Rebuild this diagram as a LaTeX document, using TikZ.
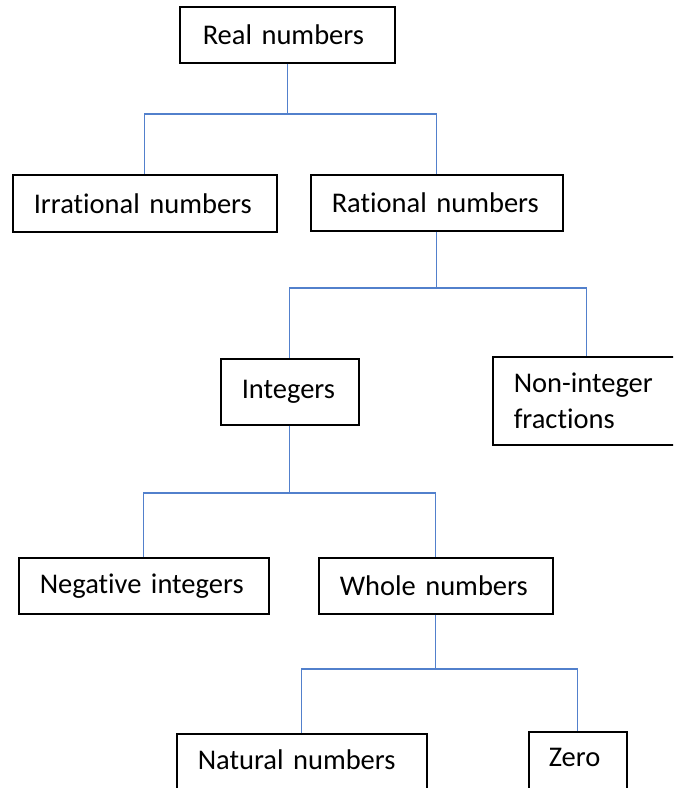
\documentclass[tikz,border=0pt]{standalone}
\usepackage{fontspec}
\setmainfont{Carlito}[RawFeature={-liga;-clig;-dlig}]
\begin{document}
\begin{tikzpicture}[x=1pt,y=-1pt,
  box/.style={draw=black, line width=1.5pt, rectangle, anchor=north west, inner xsep=0pt, inner ysep=0pt,
     font=\fontsize{28.5}{36}\selectfont, align=left},
  conn/.style={draw={rgb,255:red,82;green,128;blue,204}, line width=1.3pt}]
\useasboundingbox (0,0) rectangle (673,788);
\clip (0,0) rectangle (673,788);
% boxes: minimum width/height give box size; text inset via \hspace
\node[box, minimum width=215, minimum height=56, text width=215] (real) at (179,6) {\hspace*{23pt}Real numbers};
\node[box, minimum width=264, minimum height=57, text width=264] (irr) at (12,174) {\hspace*{21pt}Irrational numbers};
\node[box, minimum width=252, minimum height=56, text width=252] (rat) at (310,174) {\hspace*{21pt}Rational numbers};
\node[box, minimum width=138, minimum height=66, text width=138] (int) at (220,358) {\hspace*{21pt}Integers};
\node[box, minimum width=188, minimum height=88, text width=188] (non) at (492,356) {\hspace*{21pt}Non-integer\\\hspace*{21pt}fractions};
\node[box, minimum width=250, minimum height=56, text width=250] (neg) at (18,557) {\hspace*{21pt}Negative integers};
\node[box, minimum width=234, minimum height=56, text width=234] (whole) at (318,557) {\hspace*{21pt}Whole numbers};
\node[box, minimum width=250, minimum height=70, text width=250] (nat) at (176,733) {\hspace*{21pt}Natural numbers\rule[-18pt]{0pt}{1pt}};
\node[box, minimum width=98, minimum height=76, text width=98] (zero) at (528,731) {\hspace*{20pt}Zero\rule[-24pt]{0pt}{1pt}};
% junction levels
\coordinate (b1) at (0,114);
\coordinate (b2) at (0,288);
\coordinate (b3) at (0,493);
\coordinate (b4) at (0,669);
% connectors
\draw[conn] (real.south) -- (real.south |- b1);
\draw[conn] (irr.north) -- (irr.north |- b1) -- (rat.north |- b1) -- (rat.north);
\draw[conn] (rat.south) -- (rat.south |- b2);
\draw[conn] (int.north) -- (int.north |- b2) -- (non.north |- b2) -- (non.north);
\draw[conn] (int.south) -- (int.south |- b3);
\draw[conn] (neg.north) -- (neg.north |- b3) -- (whole.north |- b3) -- (whole.north);
\draw[conn] (whole.south) -- (whole.south |- b4);
\draw[conn] (nat.north) -- (nat.north |- b4) -- (zero.north |- b4) -- (zero.north);
\end{tikzpicture}
\end{document}
